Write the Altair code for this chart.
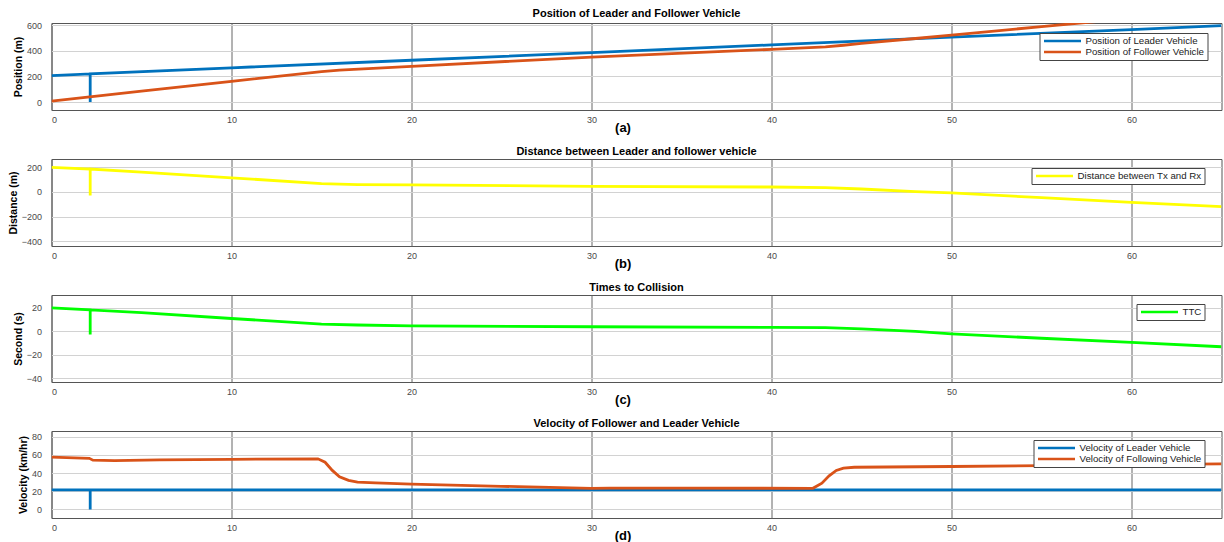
import altair as alt
import pandas as pd

# ---------------- data ----------------
# (a) Position (m)
t_lead_pos = [0, 2.15, 2.15, 2.15, 10, 20, 30, 40, 50, 60, 65]
lead_pos = [207, 220, 0, 220, 268, 327, 387, 447, 507, 567, 597]
t_fol_pos = [0, 5, 10, 15, 16, 20, 30, 40, 43, 44, 45, 48, 50, 55, 60, 65]
fol_pos = [8, 85, 162, 238, 250, 279, 352, 412, 432, 444, 458, 497, 524, 590, 654, 720]

# (b) Distance (m)
t_dist = [0, 2.15, 2.15, 2.15, 5, 10, 15, 17, 20, 30, 40, 43, 45, 48, 50, 55, 60, 65]
dist = [200, 186, -30, 186, 162, 115, 67, 60, 57, 46, 40, 35, 24, 2, -8, -47, -85, -120]

# (c) Time to collision (s)
t_ttc = [0, 2.15, 2.15, 2.15, 5, 10, 15, 17, 20, 30, 40, 43, 45, 48, 50, 55, 60, 65]
ttc = [20, 18.3, -2.5, 18.3, 16, 11, 6.3, 5.5, 4.8, 4, 3.5, 3.3, 2.2, 0, -2, -5.8, -9.3, -13]

# (d) Velocity (km/hr)
t_lead_vel = [0, 2.15, 2.15, 2.15, 65]
lead_vel = [21.6, 21.6, 0, 21.6, 21.6]
t_fol_vel = [0, 2.1, 2.3, 3.5, 6, 10, 14.8, 15.2, 15.6, 16, 16.5, 17, 18, 20, 25, 30, 31, 35,
             42.3, 42.8, 43.2, 43.6, 44.0, 44.6, 50, 55, 60, 65]
fol_vel = [57.7, 56.3, 54.3, 53.8, 54.5, 55.2, 55.8, 52, 43, 36, 32, 30, 29.2, 27.8, 25.5, 23.2, 23.6, 23.4,
           23.3, 29, 37, 43, 45.5, 46.5, 47.3, 48.3, 49.3, 50.3]

x_ticks = [0, 10, 20, 30, 40, 50, 60]

BLUE = "#0072BD"
ORANGE = "#D95319"
YELLOW = "#FFFF00"
GREEN = "#00FF00"
FONT = "Liberation Sans"
W = 1170
H = 87


def frame(series):
    rows = []
    for name, ts, vs in series:
        for i, (t, v) in enumerate(zip(ts, vs)):
            rows.append({"t": t, "v": v, "s": name, "i": i})
    return pd.DataFrame(rows)


def panel(series, colors, ydom, yticks, ytitle, title, tag, lx, ly):
    df = frame(series)
    names = [s[0] for s in series]
    return alt.Chart(df).mark_line(strokeWidth=2.8, clip=True).encode(
        x=alt.X("t:Q",
                scale=alt.Scale(domain=[0, 65], nice=False, zero=False),
                axis=alt.Axis(values=x_ticks, title=tag, titleX=571, titleY=17,
                              titleAlign="center", titleBaseline="middle",
                              titleFontSize=13, titleFontWeight="bold", titleColor="#000",
                              gridColor="#666666", labelPadding=5)),
        y=alt.Y("v:Q",
                scale=alt.Scale(domain=ydom, nice=False, zero=False),
                axis=alt.Axis(values=yticks, title=ytitle, gridColor="#d2d2d2",
                              labelPadding=10, titlePadding=3,
                              titleFontSize=10.5, titleFontWeight="bold", titleColor="#000")),
        color=alt.Color("s:N",
                        scale=alt.Scale(domain=names, range=colors),
                        legend=alt.Legend(title=None, orient="none", legendX=lx, legendY=ly)),
        order="i:Q",
    ).properties(width=W, height=H,
                 title=alt.TitleParams(title, fontSize=11, fontWeight="bold", color="#000",
                                       font=FONT, offset=2))


pa = panel([("Position of Leader Vehicle", t_lead_pos, lead_pos),
            ("Position of Follower Vehicle", t_fol_pos, fol_pos)],
           [BLUE, ORANGE], [-62, 618], [0, 200, 400, 600], "Position (m)",
           "Position of Leader and Follower Vehicle", "(a)", 988, 10)

pb = panel([("Distance between Tx and Rx", t_dist, dist)],
           [YELLOW], [-440, 268], [-400, -200, 0, 200], "Distance (m)",
           "Distance between Leader and follower vehicle", "(b)", 980, 9)

pc = panel([("TTC", t_ttc, ttc)],
           [GREEN], [-43, 31], [-40, -20, 0, 20], "Second (s)",
           "Times to Collision", "(c)", 1085, 9)

pd_ = panel([("Velocity of Leader Vehicle", t_lead_vel, lead_vel),
             ("Velocity of Following Vehicle", t_fol_vel, fol_vel)],
            [BLUE, ORANGE], [-9.4, 86.4], [0, 20, 40, 60, 80], "Velocity (km/hr)",
            "Velocity of Follower and Leader Vehicle", "(d)", 982, 9)

chart = alt.vconcat(pa, pb, pc, pd_, spacing=10).resolve_scale(
    color="independent", x="independent", y="independent"
).resolve_legend(color="independent").properties(
    padding={"left": 7.5, "top": 7, "right": 0, "bottom": 0}
).configure_view(
    stroke="#555", strokeWidth=1
).configure_axis(
    labelFont=FONT, titleFont=FONT, labelFontSize=9, labelColor="#4a4a4a",
    ticks=False, domain=False, grid=True, gridOpacity=1, gridWidth=1
).configure_legend(
    labelFont=FONT, labelFontSize=9.7, labelColor="#222",
    symbolType="stroke", symbolSize=1369, symbolStrokeWidth=2.5,
    labelOffset=3, padding=3, rowPadding=1, clipHeight=10,
    strokeColor="#444", fillColor="#ffffff", cornerRadius=0
).configure_title(anchor="middle")

chart.save("out.html", embed_options={"renderer": "svg", "actions": False})
